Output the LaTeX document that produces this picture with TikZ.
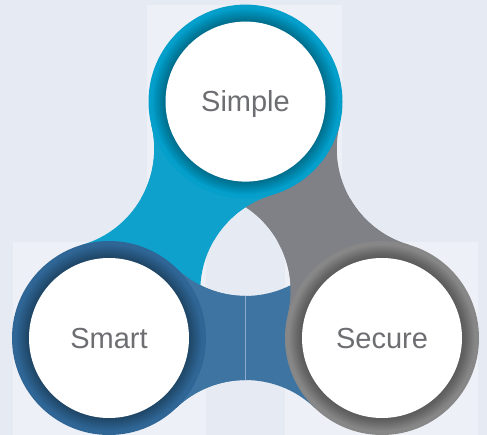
\documentclass[tikz,border=0pt]{standalone}
\usepackage{fontspec}
\setmainfont{Liberation Sans}
\definecolor{bg}{HTML}{E6EAF2}
\definecolor{panel}{HTML}{EDF0F6}
\definecolor{cyanband}{HTML}{0EA1CC}
\definecolor{cyanring}{HTML}{04A0CB}
\definecolor{blueband}{HTML}{3D74A1}
\definecolor{bluering}{HTML}{2F6696}
\definecolor{grayband}{HTML}{808186}
\definecolor{grayring}{HTML}{878787}
\definecolor{txt}{HTML}{6D6E71}
\definecolor{seam}{HTML}{8FAACB}
% blue band (Smart -> Secure), used rotated for the other two
\newcommand\bandfull{(176.21,268.06) arc[start angle=133.86, end angle=46.14, radius=100] -- (382,338) -- (314.79,407.94) arc[start angle=-46.14, end angle=-133.86, radius=100] -- (109,338) -- cycle}
\newcommand\bandhalf{(176.21,268.06) arc[start angle=133.86, end angle=90, radius=100] -- (245.5,380.04) arc[start angle=-90, end angle=-133.86, radius=100] -- (109,338) -- cycle}
\newcommand\ringat[2]{%
  \fill[#2] (#1) circle (97);
  \foreach \k in {1,...,16}{\fill[black,opacity=0.02] (#1) circle ({80+0.8*\k});}
}
\begin{document}
\begin{tikzpicture}[x=1pt,y=-1pt,
  labelnode/.style={circle, fill=white, minimum size=160pt, inner sep=0pt,
    text=txt, font=\fontsize{29}{34}\selectfont, text height=20.6pt, text depth=0pt}]
\useasboundingbox (0,0) rectangle (487,435);
\fill[bg] (0,0) rectangle (487,435);
\fill[panel] (147,5) rectangle (342,200);
\fill[panel] (13,242) rectangle (206,435);
\fill[panel] (285,242) rectangle (478,435);

\coordinate (G) at (245.5,259.2);
\coordinate (cSimple) at (245.5,101.6);
\coordinate (cSmart) at (109,338);
\coordinate (cSecure) at (382,338);

% full bands
\fill[blueband] \bandfull;
\begin{scope}[rotate around={120:(G)}]
  \fill[grayband] \bandfull;
\end{scope}
\begin{scope}[rotate around={240:(G)}]
  \fill[cyanband] \bandfull;
\end{scope}
% owner halves on top
\fill[blueband] \bandhalf;
\begin{scope}[rotate around={120:(G)}]
  \fill[grayband] \bandhalf;
\end{scope}
\begin{scope}[rotate around={240:(G)}]
  \fill[cyanband] \bandhalf;
\end{scope}
\draw[seam, line width=0.6pt] (245.5,296.5) -- (245.5,379.5);

% rings
\ringat{cSimple}{cyanring}
\ringat{cSmart}{bluering}
\ringat{cSecure}{grayring}

\node[labelnode] (simple) at (cSimple) {Simple};
\node[labelnode] (smart) at (cSmart) {Smart};
\node[labelnode] (secure) at (cSecure) {Secure};
\end{tikzpicture}
\end{document}
